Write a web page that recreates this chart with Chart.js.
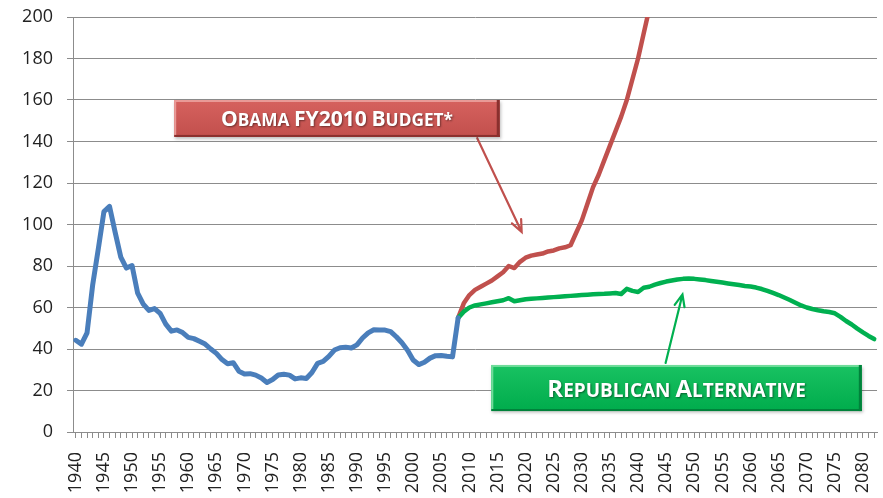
<!DOCTYPE html>
<html>
<head>
<meta charset="utf-8">
<script src="https://cdn.jsdelivr.net/npm/chart.js@4/dist/chart.umd.min.js"></script>
<style>
  body { margin: 0; background: #fff; }
  #wrap { width: 883px; height: 498px; }
</style>
</head>
<body>
<div id="wrap"><canvas id="debtChart" width="883" height="498"></canvas></div>
<script>
// years on the category axis
const firstYear = 1940;
const lastYear = 2082;
const years = [];
for (let y = firstYear; y <= lastYear; y++) years.push(String(y));

// historical, 1940-2008
const historical = [
    44.2, 42.3, 47.8, 70.9, 88.3, 106.2, 108.7, 96.2, 84.3, 79.0,
    80.2, 66.9, 61.6, 58.6, 59.5, 57.2, 52.0, 48.6, 49.2, 47.9,
    45.6, 45.0, 43.7, 42.4, 40.0, 37.9, 34.9, 32.9, 33.4, 29.3,
    28.0, 28.1, 27.4, 26.0, 23.9, 25.3, 27.5, 27.8, 27.4, 25.6,
    26.1, 25.8, 28.7, 33.1, 34.0, 36.4, 39.5, 40.6, 40.9, 40.5,
    42.0, 45.3, 47.8, 49.3, 49.2, 49.1, 48.4, 45.9, 43.0, 39.4,
    34.7, 32.5, 33.6, 35.6, 36.8, 36.9, 36.5, 36.2, 55.0
];

// Obama FY2010 budget, 2008-2043 (runs off the top)
const obamaBudget = [
    55, 62, 66, 68.5, 70, 71.5, 73, 75, 77, 80,
    79, 82, 84, 85, 85.5, 86, 87, 87.5, 88.5, 89,
    90, 96, 102, 110, 118, 124, 131, 138, 145, 152,
    160, 170, 180, 192, 204, 216
];

// Republican alternative, 2008-2082
const republicanAlt = [
    55, 58, 60, 61, 61.5, 62, 62.5, 63, 63.5, 64.5,
    63, 63.5, 64, 64.2, 64.4, 64.6, 64.8, 65, 65.2, 65.4,
    65.6, 65.8, 66, 66.2, 66.4, 66.5, 66.6, 66.8, 67, 66.5,
    69, 68, 67.5, 69.5, 70, 71, 71.8, 72.5, 73, 73.5,
    73.8, 74, 73.8, 73.5, 73.2, 72.8, 72.4, 72, 71.6, 71.2,
    70.8, 70.4, 70.1, 69.6, 68.9, 68, 67, 66, 64.8, 63.6,
    62.3, 61, 60, 59.3, 58.7, 58.2, 57.8, 57.2, 55.5, 53.5,
    51.8, 49.8, 48, 46.3, 44.8
];

const yTicks = { min: 0, max: 200, step: 20 };

function placeSeries(values, startYear) {
    const out = new Array(years.length).fill(null);
    values.forEach((v, i) => {
        const idx = startYear - firstYear + i;
        if (idx < out.length) out[idx] = v;
    });
    return out;
}

// callouts, positioned in data units (year, value)
const callouts = [
    {
        words: [['O', 'BAMA'], ['FY2010', ''], ['B', 'UDGET*']],
        box: { x0: 1957.5, x1: 2015.4, y0: 160, y1: 142.2 },
        arrow: { x0: 2011.4, y0: 141.6, x1: 2019.3, y1: 96.4 },
        fill: ['#d6625f', '#c24f4c'], light: '#e99a97', dark: '#8a302e',
        line: '#c0504d', big: 22, textWidth: 232
    },
    {
        words: [['R', 'EPUBLICAN'], ['A', 'LTERNATIVE']],
        box: { x0: 2013.9, x1: 2079.8, y0: 32.3, y1: 10.1 },
        arrow: { x0: 2044.9, y0: 33.3, x1: 2047.9, y1: 66.3 },
        fill: ['#19c262', '#00ac4c'], light: '#6fdc9a', dark: '#00823b',
        line: '#00b050', big: 24, textWidth: 272
    }
];

function drawArrow(ctx, x0, y0, x1, y1, color) {
    const ang = Math.atan2(y1 - y0, x1 - x0);
    const head = 13;
    ctx.save();
    ctx.strokeStyle = color;
    ctx.lineWidth = 2.2;
    ctx.lineCap = 'round';
    ctx.beginPath();
    ctx.moveTo(x0, y0);
    ctx.lineTo(x1, y1);
    ctx.moveTo(x1 - head * Math.cos(ang - 0.4), y1 - head * Math.sin(ang - 0.4));
    ctx.lineTo(x1, y1);
    ctx.lineTo(x1 - head * Math.cos(ang + 0.4), y1 - head * Math.sin(ang + 0.4));
    ctx.stroke();
    ctx.restore();
}

function drawSmallCaps(ctx, words, cx, cy, big, targetW) {
    const small = Math.round(big * 0.8);
    const fam = '"Open Sans", sans-serif';
    const parts = [];
    words.forEach((w, i) => {
        parts.push({ t: w[0], s: big });
        if (w[1]) parts.push({ t: w[1], s: small });
        if (i < words.length - 1) parts.push({ t: ' ', s: small });
    });
    let total = 0;
    parts.forEach(p => {
        ctx.font = 'bold ' + p.s + 'px ' + fam;
        p.w = ctx.measureText(p.t).width;
        total += p.w;
    });
    const sx = Math.min(1, targetW / total);
    ctx.save();
    ctx.translate(cx - total * sx / 2, cy);
    ctx.scale(sx, 1);
    ctx.fillStyle = '#fff';
    ctx.textBaseline = 'alphabetic';
    ctx.shadowColor = 'rgba(0,0,0,0.45)';
    ctx.shadowBlur = 2;
    ctx.shadowOffsetX = 1;
    ctx.shadowOffsetY = 1;
    let x = 0;
    parts.forEach(p => {
        ctx.font = 'bold ' + p.s + 'px ' + fam;
        ctx.fillText(p.t, x, big * 0.36);
        x += p.w;
    });
    ctx.restore();
}

const calloutPlugin = {
    id: 'callouts',
    afterDatasetsDraw(chart) {
        const ctx = chart.ctx;
        const xs = chart.scales.x, ys = chart.scales.y;
        const px = yr => xs.getPixelForValue(yr - firstYear);
        callouts.forEach(c => {
            const a = c.arrow;
            drawArrow(ctx, px(a.x0), ys.getPixelForValue(a.y0), px(a.x1), ys.getPixelForValue(a.y1), c.line);

            const l = px(c.box.x0), r = px(c.box.x1);
            const t = ys.getPixelForValue(c.box.y0), b = ys.getPixelForValue(c.box.y1);
            ctx.save();
            ctx.shadowColor = 'rgba(0,0,0,0.25)';
            ctx.shadowBlur = 3;
            ctx.shadowOffsetX = 1;
            ctx.shadowOffsetY = 2;
            const g = ctx.createLinearGradient(0, t, 0, b);
            g.addColorStop(0, c.fill[0]);
            g.addColorStop(1, c.fill[1]);
            ctx.fillStyle = g;
            ctx.fillRect(l, t, r - l, b - t);
            ctx.restore();
            // bevel edges
            ctx.save();
            ctx.fillStyle = c.light;
            ctx.fillRect(l, t, r - l, 2);
            ctx.fillRect(l, t, 2, b - t);
            ctx.fillStyle = c.dark;
            ctx.fillRect(l, b - 2, r - l, 2);
            ctx.fillRect(r - 3, t, 3, b - t);
            ctx.restore();

            drawSmallCaps(ctx, c.words, (l + r) / 2, (t + b) / 2, c.big, c.textWidth);
        });
    }
};

const axisFont = { family: '"Open Sans", sans-serif', size: 18 };
const gridGray = '#8c8c8c';

function noScalePadding(s) {
    s.paddingTop = 0;
    s.paddingBottom = 0;
    s.paddingLeft = 0;
    s.paddingRight = 0;
}

new Chart(document.getElementById('debtChart'), {
    type: 'line',
    data: {
        labels: years,
        datasets: [
            {
                label: 'Historical',
                data: placeSeries(historical, 1940),
                borderColor: '#4a7ebb',
                borderWidth: 5
            },
            {
                label: 'Republican Alternative',
                data: placeSeries(republicanAlt, 2008),
                borderColor: '#00b050',
                borderWidth: 4.5
            },
            {
                label: 'Obama FY2010 Budget',
                data: placeSeries(obamaBudget, 2008),
                borderColor: '#c0504d',
                borderWidth: 4.5
            }
        ]
    },
    options: {
        responsive: false,
        animation: false,
        layout: { padding: { top: 17, right: 6, left: 0, bottom: 0 } },
        elements: {
            point: { radius: 0 },
            line: { tension: 0, borderCapStyle: 'round', borderJoinStyle: 'round', spanGaps: false }
        },
        plugins: {
            legend: { display: false },
            tooltip: { enabled: false }
        },
        scales: {
            x: {
                type: 'category',
                offset: true,
                border: { color: gridGray, width: 1 },
                grid: { display: true, drawOnChartArea: false, drawTicks: true, tickLength: 6, color: gridGray },
                ticks: {
                    autoSkip: false,
                    minRotation: 90,
                    maxRotation: 90,
                    padding: 14,
                    color: '#222',
                    font: axisFont,
                    callback: function (val) {
                        const yr = Number(this.getLabelForValue(val));
                        return yr % 5 === 0 ? String(yr) : '';
                    }
                },
                afterFit: s => { s.height = 66; noScalePadding(s); }
            },
            y: {
                min: yTicks.min,
                max: yTicks.max,
                border: { color: gridGray, width: 1 },
                grid: { color: gridGray, tickLength: 6 },
                ticks: { stepSize: yTicks.step, padding: 14, color: '#222', font: axisFont },
                afterFit: s => { s.width = 73; noScalePadding(s); }
            }
        }
    },
    plugins: [calloutPlugin]
});
</script>
</body>
</html>
